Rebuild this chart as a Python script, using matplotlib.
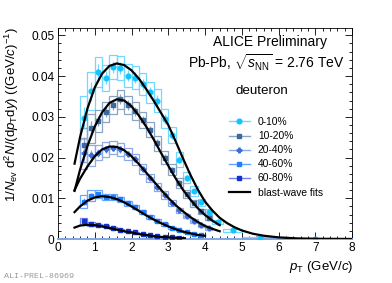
import matplotlib
matplotlib.use('Agg')
import matplotlib.pyplot as plt
from matplotlib.lines import Line2D
from matplotlib.ticker import MultipleLocator
import numpy as np

plt.rcParams['font.family'] = ['Liberation Sans', 'DejaVu Sans']
plt.rcParams['mathtext.fontset'] = 'custom'
plt.rcParams['mathtext.rm'] = 'Liberation Sans'
plt.rcParams['mathtext.it'] = 'Liberation Sans:italic'

# pT bins (GeV/c)
pt_centers = [0.7, 0.9, 1.1, 1.3, 1.5, 1.7, 1.9, 2.1, 2.3, 2.5, 2.7, 2.9,
              3.1, 3.3, 3.5, 3.7, 3.9, 4.1, 4.35, 4.75, 5.5, 7.0]
pt_widths = [0.2] * 18 + [0.3, 0.5, 1.0, 2.0]
rel_syst = [0.18, 0.13, 0.09, 0.08, 0.07, 0.07, 0.07, 0.07, 0.07, 0.07, 0.08,
            0.08, 0.08, 0.09, 0.09, 0.10, 0.10, 0.11, 0.12, 0.14, 0.20, 0.50]

centralities = ['0-10%', '10-20%', '20-40%', '40-60%', '60-80%']

spec_0_10 = [0.0298, 0.0363, 0.0411, 0.0396, 0.0423, 0.0420, 0.0401, 0.0396,
             0.0380, 0.0360, 0.0340, 0.0295, 0.0255, 0.0195, 0.0150, 0.0118,
             0.0090, 0.0066, 0.0042, 0.0021, 0.0005, 0.00005]
spec_10_20 = [0.0230, 0.0272, 0.0290, 0.0312, 0.0329, 0.0343, 0.0329, 0.0314,
              0.0292, 0.0268, 0.0235, 0.0200, 0.0170, 0.0138, 0.0110, 0.0088,
              0.0068, 0.0052]
spec_20_40 = [0.0210, 0.0205, 0.0212, 0.0220, 0.0224, 0.0220, 0.0208, 0.0196,
              0.0172, 0.0150, 0.0127, 0.0108, 0.0088, 0.0070, 0.0056, 0.0044,
              0.0034, 0.0026]
spec_40_60 = [0.0092, 0.0106, 0.0111, 0.0103, 0.0104, 0.0097, 0.0088, 0.0079,
              0.0066, 0.0054, 0.0045, 0.0036, 0.0028, 0.0021, 0.0016, 0.0012,
              0.0009]
spec_60_80 = [0.0043, 0.0037, 0.0034, 0.0031, 0.0027, 0.0023, 0.0019, 0.0016,
              0.0012, 0.0009, 0.0007, 0.0005, 0.0004, 0.0003]

# blast-wave fit curves
fit_pt_0_10 = [0.45, 0.6, 0.8, 1.0, 1.2, 1.4, 1.6, 1.8, 2.0, 2.2, 2.4, 2.6, 2.8,
               3.0, 3.2, 3.4, 3.6, 3.8, 4.0, 4.2, 4.4, 4.6, 4.8, 5.0, 5.3, 5.6,
               6.0, 6.5, 7.0, 8.0]
fit_0_10 = [0.0185, 0.0250, 0.0320, 0.0372, 0.0406, 0.0425, 0.0431, 0.0427,
            0.0414, 0.0394, 0.0368, 0.0340, 0.0310, 0.0280, 0.0240, 0.0198,
            0.0158, 0.0122, 0.0092, 0.0070, 0.0052, 0.0039, 0.0029, 0.0021,
            0.0013, 0.0008, 0.0004, 0.00015, 0.00006, 0.00001]
fit_pt_10_20 = [0.45, 0.6, 0.8, 1.0, 1.2, 1.4, 1.6, 1.8, 2.0, 2.2, 2.4, 2.6,
                2.8, 3.0, 3.2, 3.4, 3.6, 3.8, 4.0, 4.2, 4.4]
fit_10_20 = [0.0118, 0.0170, 0.0228, 0.0276, 0.0311, 0.0334, 0.0343, 0.0340,
             0.0326, 0.0303, 0.0276, 0.0245, 0.0212, 0.0180, 0.0149, 0.0121,
             0.0097, 0.0076, 0.0059, 0.0045, 0.0034]
fit_pt_20_40 = [0.45, 0.6, 0.8, 1.0, 1.2, 1.4, 1.6, 1.8, 2.0, 2.2, 2.4, 2.6,
                2.8, 3.0, 3.2, 3.4, 3.6, 3.8, 4.0, 4.2, 4.4]
fit_20_40 = [0.0120, 0.0148, 0.0178, 0.0203, 0.0220, 0.0227, 0.0226, 0.0218,
             0.0203, 0.0184, 0.0163, 0.0142, 0.0121, 0.0101, 0.0083, 0.0068,
             0.0054, 0.0042, 0.0032, 0.0025, 0.0019]
fit_pt_40_60 = [0.45, 0.6, 0.8, 1.0, 1.2, 1.4, 1.6, 1.8, 2.0, 2.2, 2.4, 2.6,
                2.8, 3.0, 3.2, 3.4, 3.6, 3.8, 4.0]
fit_40_60 = [0.0066, 0.0080, 0.0094, 0.0102, 0.0105, 0.0103, 0.0098, 0.0090,
             0.0080, 0.0069, 0.0058, 0.0048, 0.0039, 0.0031, 0.0024, 0.0018,
             0.0014, 0.0010, 0.0008]
fit_pt_60_80 = [0.45, 0.6, 0.8, 1.0, 1.2, 1.4, 1.6, 1.8, 2.0, 2.2, 2.4, 2.6,
                2.8, 3.0, 3.2, 3.45]
fit_60_80 = [0.0028, 0.0033, 0.0035, 0.0034, 0.0031, 0.0027, 0.0023, 0.0019,
             0.0016, 0.0012, 0.0010, 0.0007, 0.0005, 0.0004, 0.0003, 0.0002]

spectra = [spec_0_10, spec_10_20, spec_20_40, spec_40_60, spec_60_80]
fits = [(fit_pt_0_10, fit_0_10), (fit_pt_10_20, fit_10_20),
        (fit_pt_20_40, fit_20_40), (fit_pt_40_60, fit_40_60),
        (fit_pt_60_80, fit_60_80)]

marker_colors = ['#14c4ff', '#3d6a9e', '#3e6fd6', '#1f80ff', '#1232d6']
box_colors = ['#72d8ff', '#8aa4c4', '#8eaae6', '#6aa6ff', '#7084ea']
markers = ['o', 's', 'P', 's', 's']

fig = plt.figure(figsize=(3.92, 2.83), dpi=100)
ax = fig.add_axes([58 / 392, 44 / 283, 294 / 392, 211 / 283])

for i in range(len(centralities)):
    y = np.array(spectra[i])
    n = len(y)
    x = np.array(pt_centers[:n])
    w = np.array(pt_widths[:n])
    syst = y * np.array(rel_syst[:n])
    ax.bar(x, 2 * syst, bottom=y - syst, width=w, fill=False,
           edgecolor=box_colors[i], linewidth=0.9, zorder=2)
    ax.errorbar(x, y, yerr=0.5 * syst, fmt=markers[i], color=box_colors[i],
                mfc=marker_colors[i], mec=marker_colors[i], ms=3.4,
                elinewidth=0.9, capsize=0, zorder=3)

for fpt, fval in fits:
    ax.plot(fpt, fval, color='black', lw=1.6, zorder=4)

ax.set_xlim(0, 8)
ax.set_ylim(0, 0.0518)
ax.xaxis.set_major_locator(MultipleLocator(1))
ax.xaxis.set_minor_locator(MultipleLocator(0.2))
ax.yaxis.set_major_locator(MultipleLocator(0.01))
ax.yaxis.set_minor_locator(MultipleLocator(0.002))
ax.set_yticks([0, 0.01, 0.02, 0.03, 0.04, 0.05])
ax.set_yticklabels(['0', '0.01', '0.02', '0.03', '0.04', '0.05'])
ax.tick_params(which='both', direction='in', top=True, right=True,
               labelsize=8.6, width=0.6, pad=2.5)
ax.tick_params(which='major', length=5)
ax.tick_params(which='minor', length=2.5)
for s in ax.spines.values():
    s.set_linewidth(0.6)
ax.spines['bottom'].set_color('#7fa6e6')
ax.spines['bottom'].set_linewidth(1.4)

fig.text(353 / 392, 1 - 267 / 283, r'$p_{\rm T}$ (GeV/$c$)', ha='right',
         va='center', fontsize=9.5)
fig.text(12 / 392, 1 - 27 / 283,
         r'1/$N_{\rm ev}$ d$^{2}N$/(d$p_{\rm T}$d$y$) ((GeV/$c$)$^{-1}$)',
         rotation=90, ha='center', va='top', fontsize=9.5)

fig.text(270 / 392, 1 - 42 / 283, 'ALICE Preliminary', ha='center',
         va='center', fontsize=10)
fig.text(266 / 392, 1 - 63 / 283,
         r'Pb-Pb, $\sqrt{s_{\rm NN}}$ = 2.76 TeV', ha='center', va='center',
         fontsize=10)
fig.text(262 / 392, 1 - 91 / 283, 'deuteron', ha='center', va='center',
         fontsize=9.6)

handles = []
for i in range(len(centralities)):
    handles.append(Line2D([], [], color=box_colors[i], lw=1.0,
                          marker=markers[i], mfc=marker_colors[i],
                          mec=marker_colors[i], ms=3.4))
handles.append(Line2D([], [], color='black', lw=1.6))
labels = centralities + ['blast-wave fits']
ax.legend(handles, labels, loc='upper left',
          bbox_to_anchor=((229 - 58) / 294, (239 - 117) / 211),
          frameon=False, fontsize=7.4, handlelength=2.0, handletextpad=0.8,
          labelspacing=0.4, borderpad=0, borderaxespad=0)

fig.text(4 / 392, 1 - 277 / 283, 'ALI-PREL-86969', ha='left', va='center',
         fontsize=6, color='#999999', family='Liberation Mono')

fig.savefig('out.png', dpi=100)
